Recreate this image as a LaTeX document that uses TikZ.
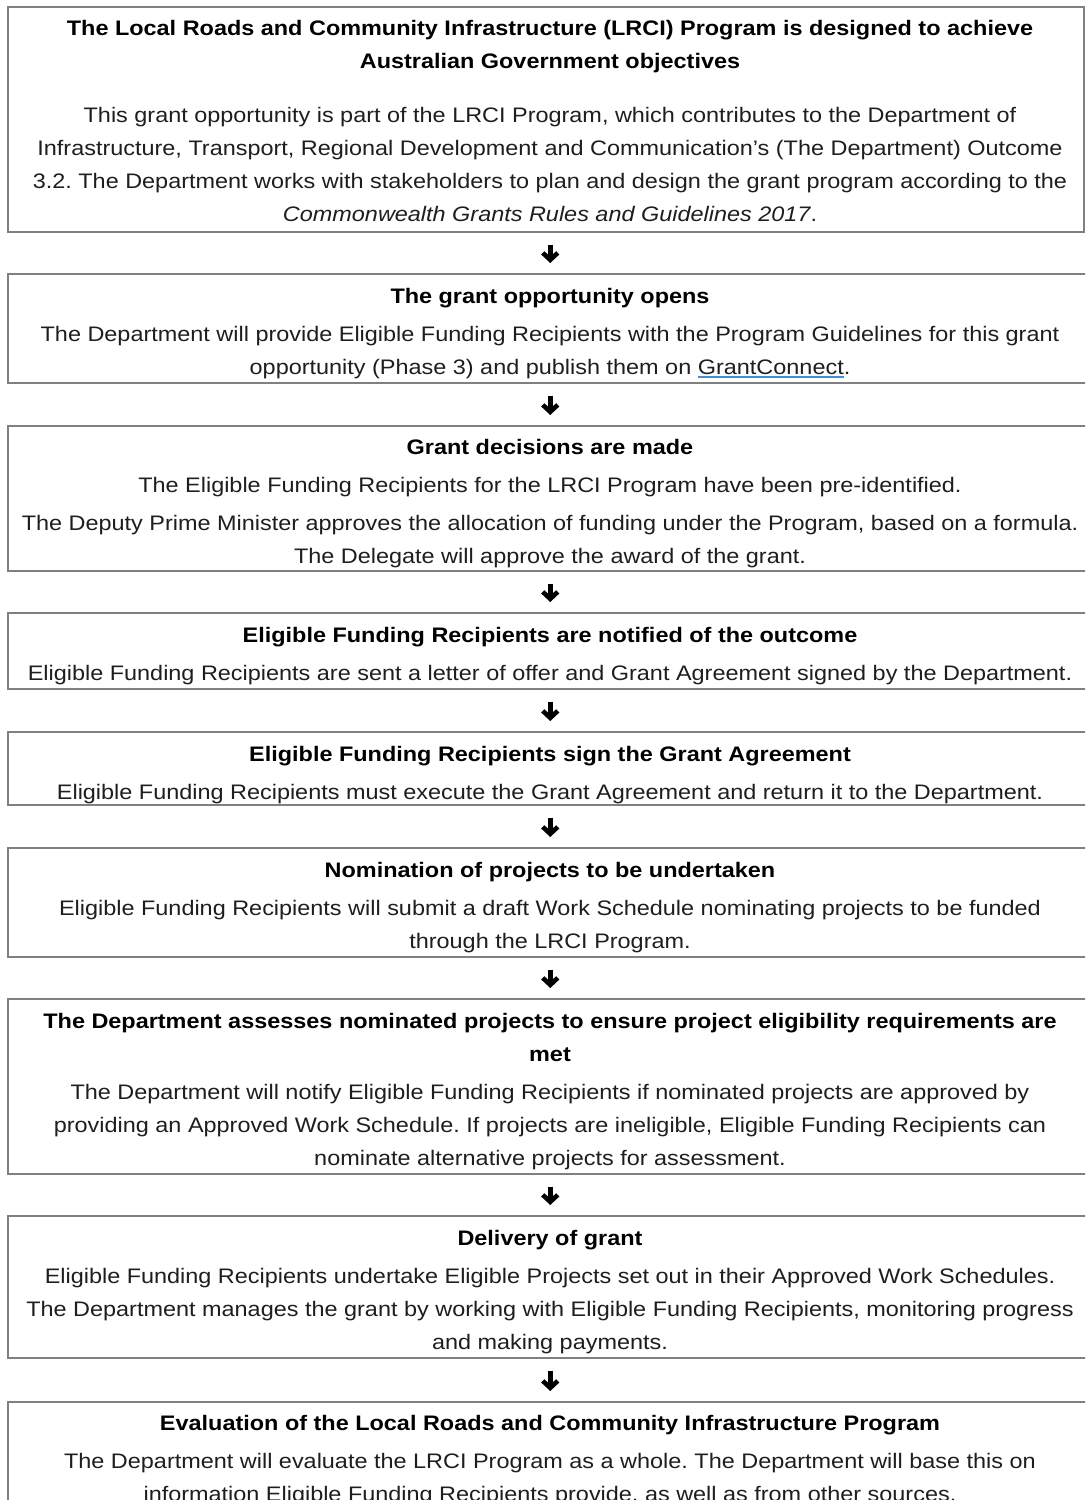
\documentclass[tikz,border=0pt]{standalone}
\usepackage{fontspec}
\setmainfont{Liberation Sans}[FakeStretch=1.116]
\usetikzlibrary{arrows.meta}
\frenchspacing

\definecolor{boxline}{RGB}{128,128,128}
\definecolor{bodyink}{RGB}{30,30,30}
\definecolor{linkblue}{RGB}{66,140,222}

% underline drawn in link colour, text keeps its own colour
\newcommand\linkul[1]{\setbox0\hbox{#1}\rlap{\textcolor{linkblue}{\rule[-4pt]{\wd0}{1.6pt}}}\box0}

\tikzset{
  stagebox/.style={draw=boxline, line width=1.5pt, inner sep=0pt, anchor=north west},
  % anchored on the baseline of the last line
  stagetext/.style={anchor=base, align=center, inner sep=0pt, text=bodyink,
    font=\fontsize{21}{33}\selectfont},
  flowarrow/.style={line width=4.6pt, black, line cap=butt,
    -{Straight Barb[length=7pt, width=15pt, line cap=butt, line join=miter]},
    shorten <=12pt, shorten >=10pt},
}

\begin{document}
\begin{tikzpicture}[x=1pt, y=-1pt]
\clip (0,0) rectangle (1085,1500);
\fill[white] (0,0) rectangle (1085,1500);

% stage frames
\node[stagebox, minimum width=1076pt, minimum height=225pt] (b1) at (7,6) {};
\node[stagebox, minimum width=1085pt, minimum height=109pt] (b2) at (7,273) {};
\node[stagebox, minimum width=1085pt, minimum height=145pt] (b3) at (7,425) {};
\node[stagebox, minimum width=1085pt, minimum height=76pt]  (b4) at (7,612) {};
\node[stagebox, minimum width=1085pt, minimum height=73pt]  (b5) at (7,731) {};
\node[stagebox, minimum width=1085pt, minimum height=109pt] (b6) at (7,847) {};
\node[stagebox, minimum width=1085pt, minimum height=175pt] (b7) at (7,998) {};
\node[stagebox, minimum width=1085pt, minimum height=142pt] (b8) at (7,1215) {};
\node[stagebox, minimum width=1085pt, minimum height=130pt] (b9) at (7,1401) {};

% stage texts
\node[stagetext] (t1) at (550,221) {\textbf{\color{black}The Local Roads and Community Infrastructure (LRCI) Program is designed to achieve}\\
  \textbf{\color{black}Australian Government objectives}\\[21pt]
  This grant opportunity is part of the LRCI Program, which contributes to the Department of\\
  Infrastructure, Transport, Regional Development and Communication’s (The Department) Outcome\\
  3.2. The Department works with stakeholders to plan and design the grant program according to the\\
  \textit{Commonwealth Grants Rules and Guidelines 2017}.};

\node[stagetext] (t2) at (550,374) {\textbf{\color{black}The grant opportunity opens}\\[5pt]
  The Department will provide Eligible Funding Recipients with the Program Guidelines for this grant\\
  opportunity (Phase 3) and publish them on \linkul{GrantConnect}.};

\node[stagetext] (t3) at (550,563) {\textbf{\color{black}Grant decisions are made}\\[5pt]
  The Eligible Funding Recipients for the LRCI Program have been pre-identified.\\[5pt]
  The Deputy Prime Minister approves the allocation of funding under the Program, based on a formula.\\
  The Delegate will approve the award of the grant.};

\node[stagetext] (t4) at (550,680) {\textbf{\color{black}Eligible Funding Recipients are notified of the outcome}\\[5pt]
  Eligible Funding Recipients are sent a letter of offer and Grant Agreement signed by the Department.};

\node[stagetext] (t5) at (550,799) {\textbf{\color{black}Eligible Funding Recipients sign the Grant Agreement}\\[5pt]
  Eligible Funding Recipients must execute the Grant Agreement and return it to the Department.};

\node[stagetext] (t6) at (550,948) {\textbf{\color{black}Nomination of projects to be undertaken}\\[5pt]
  Eligible Funding Recipients will submit a draft Work Schedule nominating projects to be funded\\
  through the LRCI Program.};

\node[stagetext] (t7) at (550,1165) {\textbf{\color{black}The Department assesses nominated projects to ensure project eligibility requirements are}\\
  \textbf{\color{black}met}\\[5pt]
  The Department will notify Eligible Funding Recipients if nominated projects are approved by\\
  providing an Approved Work Schedule. If projects are ineligible, Eligible Funding Recipients can\\
  nominate alternative projects for assessment.};

\node[stagetext] (t8) at (550,1349) {\textbf{\color{black}Delivery of grant}\\[5pt]
  Eligible Funding Recipients undertake Eligible Projects set out in their Approved Work Schedules.\\
  The Department manages the grant by working with Eligible Funding Recipients, monitoring progress\\
  and making payments.};

\node[stagetext] (t9) at (550,1501) {\textbf{\color{black}Evaluation of the Local Roads and Community Infrastructure Program}\\[5pt]
  The Department will evaluate the LRCI Program as a whole. The Department will base this on\\
  information Eligible Funding Recipients provide, as well as from other sources.};

% flow arrows between stages
\draw[flowarrow] (b1.south -| b2.north) -- (b2.north);
\draw[flowarrow] (b2.south) -- (b3.north);
\draw[flowarrow] (b3.south) -- (b4.north);
\draw[flowarrow] (b4.south) -- (b5.north);
\draw[flowarrow] (b5.south) -- (b6.north);
\draw[flowarrow] (b6.south) -- (b7.north);
\draw[flowarrow] (b7.south) -- (b8.north);
\draw[flowarrow] (b8.south) -- (b9.north);
\end{tikzpicture}
\end{document}
